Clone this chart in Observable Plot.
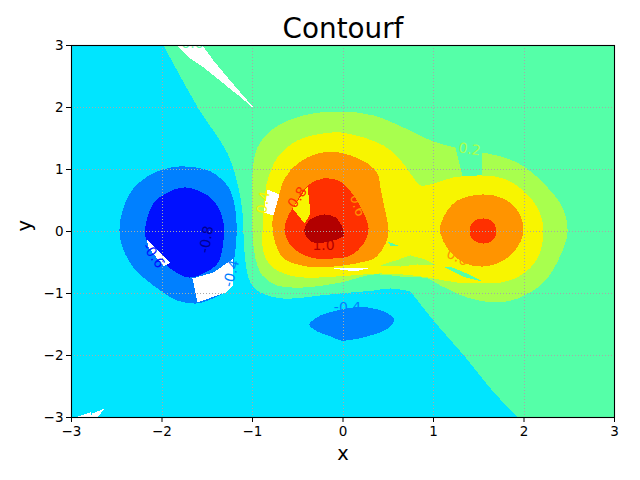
<!DOCTYPE html>
<html>
<head>
<meta charset="utf-8">
<script src="https://cdn.jsdelivr.net/npm/d3@7"></script>
<script src="https://cdn.jsdelivr.net/npm/@observablehq/plot@0.6"></script>
<style>html,body{margin:0;padding:0;background:#fff}svg{display:block}</style>
</head>
<body>
<script>
const ticks = [-3,-2,-1,0,1,2,3];
const background = [[-3,-3],[3,-3],[3,3],[-3,3]];
const bandMinus2 = [[-1.983,3],[-1.983,3],[-1.597,1.984],[-1.276,1.258],[-1.155,.71],[-1.11,.29],[-1.1,-.016],[-1.077,-.5],[-1.022,-.823],[-.912,-.984],[-.657,-1.081],[-.249,-1.032],[-.028,-1],[.337,-.952],[.525,-.919],[.746,-.968],[.746,-.968],[1,-1.435],[1.354,-2.032],[1.63,-2.532],[1.928,-3],[1.928,-3],[-3,-3],[-3,-3],[-3,3],[-3,3]];
const bandMinus4Left = [[-1.74,1.048],[-1.464,.968],[-1.265,.71],[-1.188,.339],[-1.177,-.097],[-1.199,-.419],[-1.221,-.71],[-1.32,-.984],[-1.497,-1.113],[-1.619,-1.161],[-1.829,-1.113],[-2.094,-.871],[-2.315,-.581],[-2.436,-.258],[-2.47,.016],[-2.436,.339],[-2.315,.694],[-2.105,.935],[-1.906,1.032]];
const bandMinus4Low = [[-.37,-1.5],[-.249,-1.355],[-.061,-1.274],[.105,-1.226],[.271,-1.226],[.448,-1.29],[.569,-1.419],[.492,-1.565],[.304,-1.677],[.116,-1.742],[-.028,-1.758],[-.105,-1.71],[-.282,-1.613]];
const bandMinus6 = [[-1.74,.71],[-1.497,.581],[-1.376,.387],[-1.32,.129],[-1.331,-.258],[-1.387,-.516],[-1.541,-.677],[-1.707,-.742],[-1.906,-.597],[-2.105,-.306],[-2.182,-.097],[-2.182,.097],[-2.094,.452],[-1.939,.629]];
const band2 = [[-1,.016],[-1,.935],[-.945,1.355],[-.768,1.661],[-.436,1.871],[-.028,1.935],[.337,1.871],[.669,1.677],[1,1.452],[1.243,1.355],[1.243,1.355],[1.32,.903],[1.32,.903],[1.541,.903],[1.541,.903],[1.541,1.274],[1.541,1.274],[1.818,1.177],[2.017,1.032],[2.26,.71],[2.425,.387],[2.481,0],[2.403,-.387],[2.215,-.823],[1.928,-1.081],[1.663,-1.145],[1.376,-1.065],[1.077,-.871],[.934,-.758],[.635,-.726],[.337,-.694],[-.028,-.823],[-.436,-.903],[-.724,-.871],[-.89,-.71],[-.967,-.435]];
const band4 = [[-.89,-.016],[-.856,.661],[-.834,.823],[-.724,1.194],[-.503,1.468],[-.215,1.581],[-.028,1.597],[.227,1.516],[.448,1.387],[.613,1.194],[.746,.935],[.856,.742],[1,.774],[1.221,.871],[1.541,.903],[1.773,.855],[1.994,.661],[2.149,.387],[2.215,.032],[2.149,-.435],[1.961,-.71],[1.74,-.823],[1.552,-.823],[1.265,-.823],[1,-.758],[.779,-.71],[.414,-.677],[.083,-.71],[-.436,-.742],[-.657,-.677],[-.801,-.548],[-.878,-.339]];
const sliver2 = [[.414,-.548],[.58,-.468],[.746,-.387],[.912,-.452],[1.033,-.548],[.823,-.532],[.635,-.565]];
const sliver0A = [[1.11,-.565],[1.21,-.581],[1.365,-.677],[1.541,-.806],[1.354,-.742],[1.21,-.645]];
const sliver0B = [[.492,-.161],[.635,-.242],[.525,-.226]];
const band6Left = [[-.138,1.29],[.083,1.226],[.271,1.097],[.381,.935],[.414,.71],[.448,.452],[.503,.016],[.47,-.194],[.359,-.419],[.193,-.5],[-.105,-.565],[-.392,-.565],[-.657,-.435],[-.746,-.194],[-.779,.065],[-.768,.306],[-.724,.5],[-.669,.774],[-.58,.984],[-.392,1.194]];
const band6Right = [[1.077,.097],[1.155,.339],[1.265,.5],[1.541,.597],[1.773,.532],[1.928,.339],[1.994,.048],[1.939,-.226],[1.773,-.468],[1.541,-.565],[1.331,-.5],[1.155,-.274],[1.077,-.032]];
const band8Left = [[-.392,.742],[-.215,.855],[-.028,.806],[.116,.581],[.215,.339],[.282,.048],[.227,-.194],[.083,-.387],[-.105,-.435],[-.359,-.419],[-.558,-.258],[-.646,.016],[-.613,.226],[-.558,.371]];
const band8Right = [[1.552,.21],[1.652,.161],[1.696,0],[1.652,-.145],[1.552,-.194],[1.442,-.145],[1.398,0],[1.442,.161]];
const wedge4 = [[-.558,.371],[-.425,.129],[-.359,.29],[-.392,.726]];
const peak = [[-.215,.274],[-.083,.226],[-.006,.065],[.006,-.065],[-.105,-.145],[-.326,-.177],[-.414,-.065],[-.425,.048],[-.359,.194]];
const gapA = [[-2.171,-.129],[-1.906,-.5],[-1.983,-.565],[-2.149,-.258]];
const gapB = [[-1.663,-.758],[-1.431,-.661],[-1.21,-.435],[-1.21,-.871],[-1.298,-.984],[-1.608,-1.145]];
const gapC = [[-.834,.677],[-.702,.597],[-.768,.258],[-.878,.306]];
const gapD = [[-1.829,3],[-1.552,3],[-1.431,2.758],[-1.276,2.484],[-.989,2],[-.934,1.919],[-1.155,2.194],[-1.541,2.645],[-1.718,2.823]];
const gapE = [[-2.956,-3],[-2.79,-2.919],[-2.768,-3]];
const gapF = [[-2.768,-2.935],[-2.635,-2.855],[-2.713,-3],[-2.768,-3]];
const gapG = [[-.171,-.581],[.315,-.581],[.138,-.645],[-.028,-.613]];

const colBlue = "#0010ff", colAzure = "#0080ff", colCyan = "#00e5ff", colGreen = "#55ffa8",
      colLime = "#a8ff4e", colYellow = "#f8f500", colOrange = "#ff9400", colRed = "#ff3000", colDark = "#b20000";

const smooth = "catmull-rom-closed", sharp = "linear-closed";
const layers = [
  [background, colGreen, sharp],[bandMinus2, colCyan, smooth],[bandMinus4Left, colAzure, smooth],[bandMinus4Low, colAzure, smooth],
  [bandMinus6, colBlue, smooth],[band2, colLime, smooth],[band4, colYellow, smooth],[sliver2, colLime, sharp],[sliver0A, colGreen, sharp],[sliver0B, colGreen, sharp],
  [band6Left, colOrange, smooth],[band6Right, colOrange, smooth],[band8Left, colRed, smooth],[band8Right, colRed, smooth],[wedge4, colYellow, sharp],[peak, colDark, smooth],
  [gapA,"#fff",sharp],[gapB,"#fff",sharp],[gapC,"#fff",sharp],[gapD,"#fff",sharp],[gapE,"#fff",sharp],[gapF,"#fff",sharp],[gapG,"#fff",sharp]
];

const labelText = ["0.0","0.2","0.4","0.8","0.6","1.0","-0.8","-0.6","-0.4","-0.4","0.6"];
const labelX = [-1.663,1.398,-.878,-.503,.16,-.215,-1.508,-2.094,-1.232,.05,1.265];
const labelY = [3.03,1.323,.468,.548,.419,-.226,-.129,-.387,-.677,-1.22,-.419];
const labelAngle = [0,8,-80,-55,72,0,-80,55,-75,0,25];
const labelColor = [colGreen,colLime,colYellow,colRed,colOrange,colDark,"#000090",colBlue,colAzure,colAzure,colOrange];

const font = "DejaVu Sans";
const fmt = d => String(d).replace("-", "\u2212");

const plot = Plot.plot({
  width: 640, height: 480,
  marginLeft: 71, marginRight: 26, marginTop: 45, marginBottom: 63,
  style: {fontFamily: font, background: "#fff"},
  x: {domain: [-3,3], label: null},
  y: {domain: [-3,3], label: null},
  marks: [
    ...layers.map(([poly, color, curve]) => Plot.line(poly, {
      x: d => d[0], y: d => d[1], fill: color, stroke: "none",
      curve, shapeRendering: "crispEdges"
    })),
    Plot.gridX(ticks, {stroke: "#a8a8a8", strokeOpacity: 1, strokeWidth: 1, strokeDasharray: "1,2", shapeRendering: "crispEdges"}),
    Plot.gridY(ticks, {stroke: "#a8a8a8", strokeOpacity: 1, strokeWidth: 1, strokeDasharray: "1,2", shapeRendering: "crispEdges"}),
    ...labelText.map((t, i) => Plot.text([t], {
      x: [labelX[i]], y: [labelY[i]], text: d => d, rotate: labelAngle[i],
      fill: labelColor[i], fontSize: 14, clip: true
    })),
    Plot.frame({stroke: "#000", strokeWidth: 1.1}),
    Plot.axisX({ticks, tickFormat: fmt, tickSize: 5, tickPadding: 4, fontSize: 13.5, label: null, stroke: "#000", color: "#000"}),
    Plot.axisY({ticks, tickFormat: fmt, tickSize: 5, tickPadding: 3, fontSize: 13.5, label: null, stroke: "#000", color: "#000"}),
    Plot.text(["Contourf"], {frameAnchor: "top", lineAnchor: "bottom", dy: -8, fontSize: 27.8, fill: "#000"}),
    Plot.text(["x"], {frameAnchor: "bottom", lineAnchor: "top", dy: 29, fontSize: 19.4, fill: "#000"}),
    Plot.text(["y"], {frameAnchor: "left", dx: -47, rotate: -90, fontSize: 19.4, fill: "#000"})
  ]
});
document.body.appendChild(plot);
</script>
</body>
</html>
